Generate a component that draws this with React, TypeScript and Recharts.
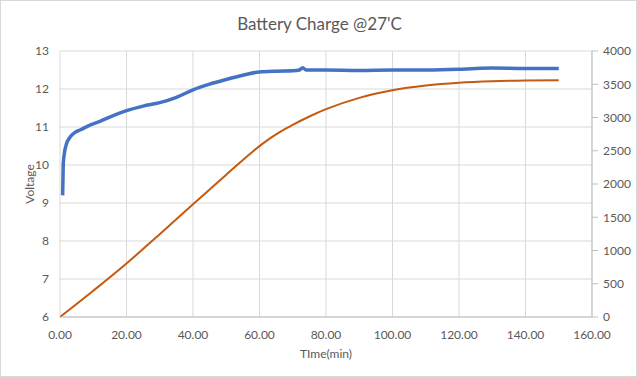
import { ComposedChart, Line, XAxis, YAxis, CartesianGrid } from 'recharts'

// time (min) / voltage readings, blue series
const voltTime = [0.8, 0.9, 1.0, 1.3, 2, 3, 4.5, 6, 8.5, 12, 16, 20, 25, 30, 35, 40, 45, 50, 55, 60, 65, 70, 72, 73, 74, 80, 90, 100, 110, 120, 125, 130, 140, 150]
const voltage = [9.2, 9.7, 10.05, 10.3, 10.57, 10.73, 10.86, 10.92, 11.03, 11.15, 11.3, 11.43, 11.55, 11.64, 11.78, 11.98, 12.13, 12.25, 12.36, 12.45, 12.47, 12.48, 12.5, 12.56, 12.5, 12.5, 12.49, 12.5, 12.5, 12.52, 12.54, 12.55, 12.54, 12.54]

// time (min) / capacity, orange series (right axis)
const capTime = [0, 10, 20, 30, 40, 50, 55, 58, 60, 62, 65, 68, 70, 75, 80, 90, 100, 110, 120, 130, 140, 150]
const capacity = [0, 395, 805, 1245, 1695, 2140, 2360, 2490, 2570, 2645, 2745, 2835, 2890, 3015, 3125, 3295, 3410, 3480, 3522, 3545, 3556, 3560]

const xTicks = [0, 20, 40, 60, 80, 100, 120, 140, 160]
const leftTicks = [6, 7, 8, 9, 10, 11, 12, 13]
const rightTicks = [0, 500, 1000, 1500, 2000, 2500, 3000, 3500, 4000]

const voltData = voltTime.map((t, i) => ({ t, v: voltage[i] }))
const capData = capTime.map((t, i) => ({ t, c: capacity[i] }))

const font = 'Lato, "Open Sans", sans-serif'
const tickStyle = { fill: '#595959', fontSize: 12, fontFamily: font }

export default function App() {
  return (
    <div style={{ position: 'relative', width: 637, height: 377, boxSizing: 'border-box', border: '1px solid #d9d9d9', background: '#fff', fontFamily: font }}>
      <style>{`body{margin:0}`}</style>
      <div style={{ position: 'absolute', top: 12, left: 0, width: 637, textAlign: 'center', fontSize: 17, color: '#595959' }}>
        Battery Charge @27'C
      </div>
      <ComposedChart width={635} height={375} margin={{ top: 50, right: 0, left: -1, bottom: 14 }}>
        <CartesianGrid yAxisId="left" stroke="#d9d9d9" vertical horizontal />
        <XAxis
          dataKey="t"
          type="number"
          domain={[0, 160]}
          ticks={xTicks}
          allowDataOverflow
          tickFormatter={(v: number) => v.toFixed(2)}
          tick={tickStyle}
          tickLine={false}
          tickMargin={7}
          axisLine={{ stroke: '#bfbfbf' }}
          height={45}
          label={{ value: 'TIme(min)', position: 'insideBottom', offset: 4, fill: '#595959', fontSize: 12, fontFamily: font }}
        />
        <YAxis
          yAxisId="left"
          domain={[6, 13]}
          ticks={leftTicks}
          tick={tickStyle}
          tickLine={false}
          axisLine={false}
          tickMargin={5}
          width={60}
          label={{ value: 'Voltage', angle: -90, position: 'center', fill: '#595959', fontSize: 12, fontFamily: font }}
        />
        <YAxis
          yAxisId="right"
          orientation="right"
          domain={[0, 4000]}
          ticks={rightTicks}
          tick={tickStyle}
          tickLine={{ stroke: '#bfbfbf' }}
          axisLine={{ stroke: '#bfbfbf' }}
          tickMargin={5}
          width={44}
        />
        <Line
          yAxisId="right"
          data={capData}
          dataKey="c"
          type="monotone"
          stroke="#C55A11"
          strokeWidth={2}
          dot={false}
          isAnimationActive={false}
        />
        <Line
          yAxisId="left"
          data={voltData}
          dataKey="v"
          type="monotone"
          stroke="#4472C4"
          strokeWidth={3.5}
          dot={false}
          isAnimationActive={false}
        />
      </ComposedChart>
    </div>
  )
}
